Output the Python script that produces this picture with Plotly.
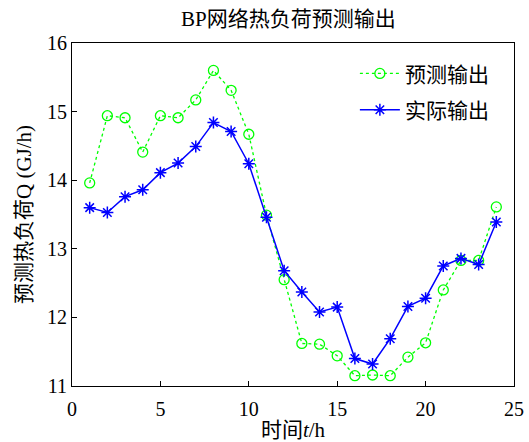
import plotly.graph_objects as go

# Hourly heat load: BP network prediction vs. actual (GJ/h)
hours = list(range(1, 25))
predicted = [13.96, 14.94, 14.91, 14.41, 14.94, 14.91, 15.17, 15.60, 15.31, 14.67,
             13.49, 12.55, 11.62, 11.61, 11.44, 11.15, 11.16, 11.15, 11.42, 11.63,
             12.40, 12.83, 12.83, 13.61]
actual = [13.60, 13.53, 13.76, 13.86, 14.11, 14.25, 14.49, 14.84, 14.71, 14.24,
          13.46, 12.68, 12.37, 12.08, 12.15, 11.40, 11.32, 11.69, 12.16, 12.28,
          12.75, 12.86, 12.77, 13.39]

x_ticks = [0, 5, 10, 15, 20, 25]
y_ticks = [11, 12, 13, 14, 15, 16]

FONT = "Liberation Serif, Times New Roman, Noto Sans CJK SC, serif"

fig = go.Figure()
fig.add_trace(go.Scatter(
    x=hours, y=predicted, name="预测输出", mode="lines+markers", legendgroup="pred",
    line=dict(color="#00ff00", width=1.3, dash="dot"),
    marker=dict(symbol="circle-open", size=10, color="#00ff00",
                line=dict(width=1.3, color="#00ff00")),
))
fig.add_trace(go.Scatter(
    x=hours, y=actual, name="实际输出", mode="lines+markers", legendgroup="act",
    line=dict(color="#0000ff", width=1.5),
    marker=dict(symbol="asterisk-open", size=10, color="#0000ff",
                line=dict(width=1.5, color="#0000ff")),
))

axis_common = dict(
    showline=True, mirror=True, linecolor="black", linewidth=1,
    ticks="inside", ticklen=5, tickcolor="black", showgrid=False,
    zeroline=False, automargin=False,
    tickfont=dict(family=FONT, size=20, color="black"),
)

fig.update_layout(
    width=529, height=442,
    margin=dict(l=72, r=15, t=43, b=56),
    paper_bgcolor="white", plot_bgcolor="white",
    title=dict(text="BP网络热负荷预测输出", x=0.545, xanchor="center",
               y=0.957, yanchor="middle",
               font=dict(family=FONT, size=21, color="black")),
    xaxis=dict(range=[0, 25], tickvals=x_ticks, ticklabelstandoff=5,
               title=dict(text="时间<i>t</i>/h", standoff=6,
                          font=dict(family=FONT, size=21, color="black")),
               **axis_common),
    yaxis=dict(range=[11, 16], tickvals=y_ticks,
               title=dict(text="预测热负荷Q (GJ/h)", standoff=9,
                          font=dict(family=FONT, size=21, color="black")),
               **axis_common),
    legend=dict(x=0.64, y=0.97, xanchor="left", yanchor="top",
                bgcolor="rgba(255,255,255,0)", borderwidth=0,
                font=dict(family=FONT, size=21, color="black"),
                tracegroupgap=6, itemwidth=40),
    showlegend=True,
)

fig.write_html("out.html")
